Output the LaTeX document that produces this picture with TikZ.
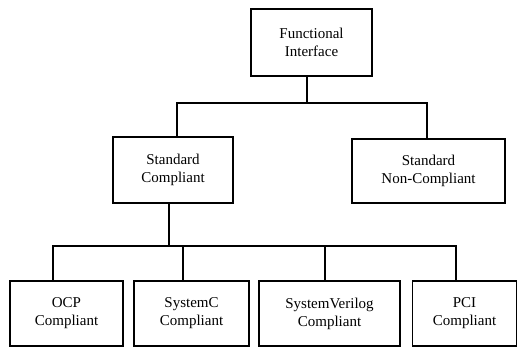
\documentclass[tikz,border=0pt]{standalone}
\usepackage{fontspec}
\setmainfont{Liberation Serif}
\begin{document}
\begin{tikzpicture}[x=1pt,y=-1pt,
  box/.style={draw, line width=1.4pt, rectangle, align=center, inner sep=0pt,
    font=\fontsize{15}{18}\selectfont},
  link/.style={line width=1.4pt}]
\useasboundingbox (0,0) rectangle (518,347);

% boxes
\node[box, minimum width=121pt, minimum height=67pt] (fi)  at (311.5,42.5) {Functional\\Interface};
\node[box, minimum width=120pt, minimum height=66pt] (sc)  at (173,170)   {Standard\\Compliant};
\node[box, minimum width=153pt, minimum height=64pt] (snc) at (428.5,171) {Standard\\Non-Compliant};
\node[box, minimum width=113pt, minimum height=65pt] (ocp) at (66.5,313.5)  {OCP\\Compliant};
\node[box, minimum width=115pt, minimum height=65pt] (syc) at (191.5,313.5) {SystemC\\Compliant};
\node[box, minimum width=141pt, minimum height=65pt] (sv)  at (329.5,313.5) {SystemVerilog\\Compliant};
\node[box, minimum width=104pt, minimum height=65pt] (pci) at (464.5,313.5) {PCI\\Compliant};

% junction points of the two branch bars
\coordinate (j1) at (307,103);
\coordinate (l1) at (177,103);
\coordinate (r1) at (427,103);
\coordinate (j2) at (169,246);
\coordinate (b1) at (53,246);
\coordinate (b2) at (183,246);
\coordinate (b3) at (325,246);
\coordinate (b4) at (456,246);

% first level
\draw[link] (fi.south -| j1) -- (j1);
\draw[link] (sc.north -| l1) -- (l1) -- (r1) -- (snc.north -| r1);

% second level
\draw[link] (sc.south -| j2) -- (j2);
\draw[link] (ocp.north -| b1) -- (b1) -- (b4) -- (pci.north -| b4);
\draw[link] (b2) -- (syc.north -| b2);
\draw[link] (b3) -- (sv.north -| b3);
\end{tikzpicture}
\end{document}
